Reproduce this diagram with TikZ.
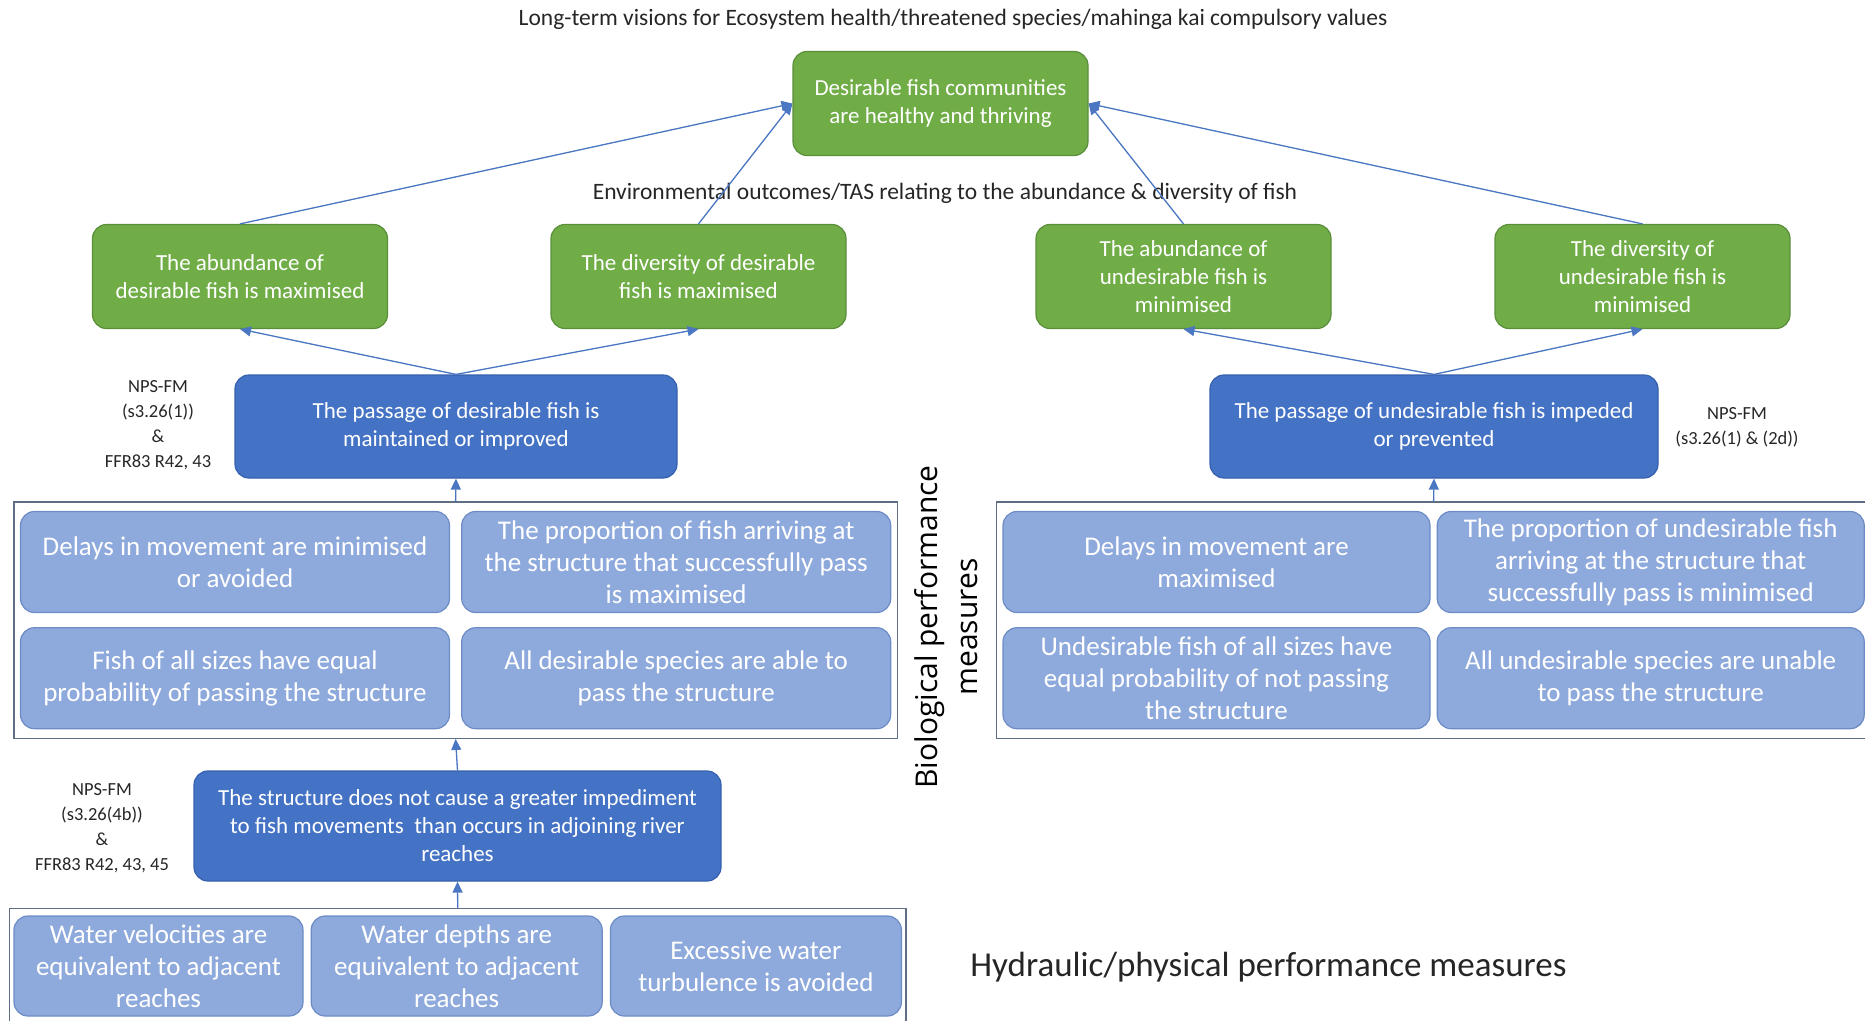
\documentclass[tikz,border=0pt]{standalone}
\usepackage{fontspec}
\setmainfont{Carlito}
\newfontfamily\biofont{Open Sans}
\usepackage{xcolor}
\usepackage{tikz}
\usetikzlibrary{arrows.meta,positioning,fit}

\definecolor{goalgreen}{HTML}{70AD47}
\definecolor{goalline}{HTML}{5B8E3A}
\definecolor{passblue}{HTML}{4472C4}
\definecolor{passline}{HTML}{3560AE}
\definecolor{measblue}{HTML}{8EA9DB}
\definecolor{measline}{HTML}{6D8CC6}
\definecolor{frameline}{HTML}{5E6E85}
\definecolor{arrowblue}{HTML}{4A76C2}

\begin{document}
\begin{tikzpicture}[x=1pt, y=-1pt,
    goal/.style={rectangle, rounded corners=14pt, draw=goalline, line width=1.2pt, fill=goalgreen, text=white, align=center, minimum width=295pt, minimum height=104pt, font=\fontsize{23}{28}\selectfont},
    pass/.style={rectangle, rounded corners=14pt, draw=passline, line width=1.2pt, fill=passblue, text=white, align=center, minimum height=103pt, font=\fontsize{23}{28}\selectfont},
    meas/.style={rectangle, rounded corners=14pt, draw=measline, line width=1.2pt, fill=measblue, text=white, align=center, inner ysep=1pt, minimum width=429pt, minimum height=101pt, font=\fontsize{27}{32}\selectfont},
    frame/.style={draw=frameline, line width=1.3pt, inner xsep=6pt, inner ysep=9pt},
    ref/.style={align=center, text=black!85, font=\fontsize{18.5}{25}\selectfont},
    arrow/.style={-{Triangle[length=11pt,width=10pt]}, line width=1.3pt, draw=arrowblue, fill=arrowblue}]

    \useasboundingbox (0,0) rectangle (1865,1020);

    % Vision
    \node[text=black!85, font=\fontsize{23.5}{28}\selectfont] (vislabel) at (953,19) {Long-term visions for Ecosystem health/threatened species/mahinga kai compulsory values};
    \node[goal] (vision) at (940.5,103.5) {Desirable fish communities\\are healthy and thriving};

    % Environmental outcomes
    \node[text=black!85, font=\fontsize{23.5}{28}\selectfont] (envlabel) at (945,193) {Environmental outcomes/TAS relating to the abundance \& diversity of fish};
    \node[goal] (abundD) at (240,276.5) {The abundance of\\desirable fish is maximised};
    \node[goal] (diverD) at (698.5,276.5) {The diversity of desirable\\fish is maximised};
    \node[goal] (abundU) at (1183.5,276.5) {The abundance of\\undesirable fish is\\minimised};
    \node[goal] (diverU) at (1642.5,276.5) {The diversity of\\undesirable fish is\\minimised};

    % Fish passage
    \node[pass, minimum width=442pt] (passD) at (456,426.5) {The passage of desirable fish is\\maintained or improved};
    \node[pass, minimum width=448pt] (passU) at (1434,426.5) {The passage of undesirable fish is impeded\\or prevented};
    \node[ref] (refD) at (158,425) {NPS-FM\\(s3.26(1))\\\&\\FFR83 R42, 43};
    \node[ref] (refU) at (1737,427) {NPS-FM\\(s3.26(1) \& (2d))};

    % Biological performance measures
    \node[meas] (delayD) at (235,562) {Delays in movement are minimised\\or avoided};
    \node[meas, right=11pt of delayD] (propD) {The proportion of fish arriving at\\the structure that successfully pass\\is maximised};
    \node[meas, below=14pt of delayD] (sizeD) {Fish of all sizes have equal\\probability of passing the structure};
    \node[meas, below=14pt of propD] (specD) {All desirable species are able to\\pass the structure};
    \node[frame, fit=(delayD)(specD)] (bioD) {};

    \node[meas, minimum width=427pt] (delayU) at (1216.5,562) {Delays in movement are\\maximised};
    \node[meas, minimum width=427pt, right=6pt of delayU] (propU) {The proportion of undesirable fish\\arriving at the structure that\\successfully pass is minimised};
    \node[meas, minimum width=427pt, below=14pt of delayU] (sizeU) {Undesirable fish of all sizes have\\equal probability of not passing\\the structure};
    \node[meas, minimum width=427pt, below=14pt of propU] (specU) {All undesirable species are unable\\to pass the structure};
    \node[frame, fit=(delayU)(specU)] (bioU) {};

    \node[rotate=90, align=center, font=\biofont\fontsize{30}{40}\selectfont] (biolabel) at (946,627) {Biological performance\\measures};

    % Structure
    \node[pass, minimum width=527pt, minimum height=110pt] (struct) at (457.5,826) {The structure does not cause a greater impediment\\to fish movements \ than occurs in adjoining river\\reaches};
    \node[ref] (refS) at (102,828) {NPS-FM\\(s3.26(4b))\\\&\\FFR83 R42, 43, 45};

    % Hydraulic/physical performance measures
    \node[meas, minimum width=289pt, minimum height=100pt] (veloc) at (158.5,966) {Water velocities are\\equivalent to adjacent\\reaches};
    \node[meas, minimum width=291pt, minimum height=100pt, right=7pt of veloc] (depth) {Water depths are\\equivalent to adjacent\\reaches};
    \node[meas, minimum width=291pt, minimum height=100pt, right=7pt of depth] (turb) {Excessive water\\turbulence is avoided};
    \node[frame, inner xsep=4pt, inner ysep=7pt, fit=(veloc)(turb)] (hydro) {};
    \node[text=black!85, font=\fontsize{35}{40}\selectfont] (hydlabel) at (1268.5,967) {Hydraulic/physical performance measures};

    % Arrows
    \draw[arrow] (abundD.north) -- (vision.west);
    \draw[arrow] (diverD.north) -- (vision.west);
    \draw[arrow] (abundU.north) -- (vision.east);
    \draw[arrow] (diverU.north) -- (vision.east);
    \draw[arrow] (passD.north) -- (abundD.south);
    \draw[arrow] (passD.north) -- (diverD.south);
    \draw[arrow] (passU.north) -- (abundU.south);
    \draw[arrow] (passU.north) -- (diverU.south);
    \draw[arrow] (bioD.north) -- (passD.south);
    \draw[arrow] (bioU.north) -- (passU.south);
    \draw[arrow] (struct.north) -- (bioD.south);
    \draw[arrow] (hydro.north) -- (struct.south);

\end{tikzpicture}
\end{document}
